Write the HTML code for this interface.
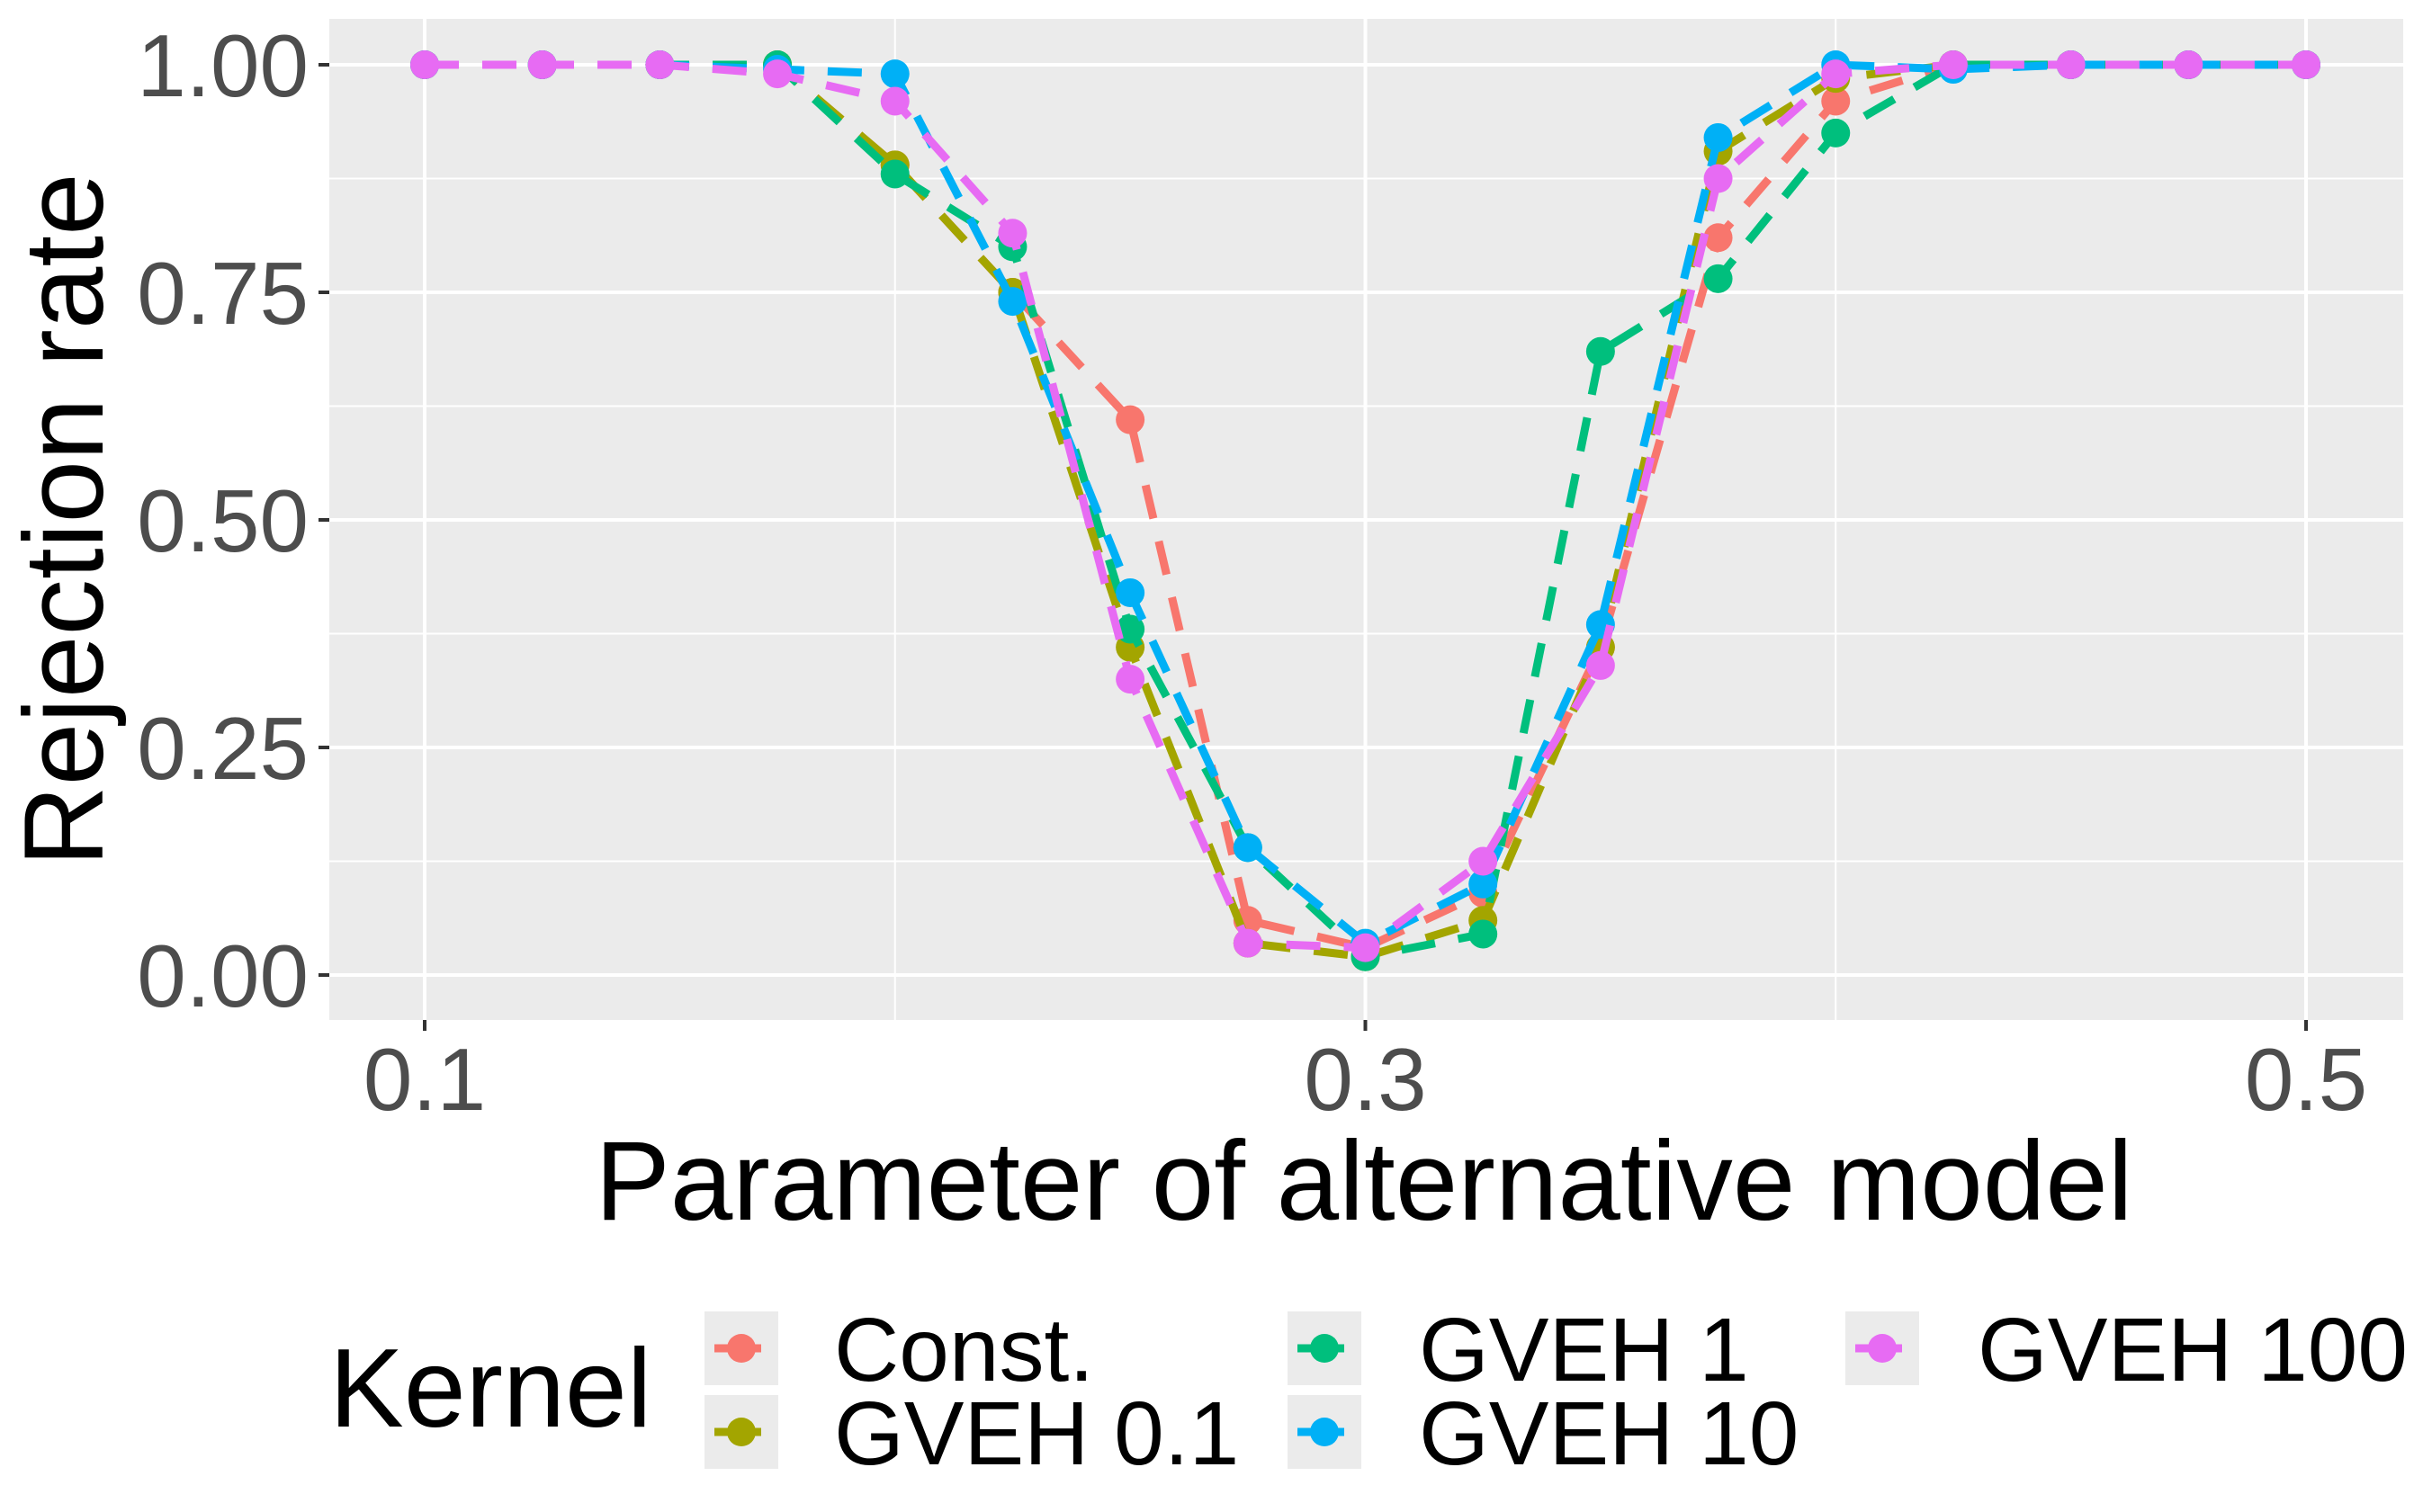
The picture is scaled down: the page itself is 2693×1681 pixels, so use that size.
<!DOCTYPE html>
<html><head><meta charset="utf-8"><style>
html,body{margin:0;padding:0;background:#fff}
svg{display:block}
text{font-family:"Liberation Sans",Arial,sans-serif}
</style></head><body>
<svg id="chart" width="2693" height="1681" viewBox="0 0 2693 1681">
<rect x="0" y="0" width="2693" height="1681" fill="#fff"/>
<rect x="366" y="21" width="2305" height="1113" fill="#ebebeb"/>
<g id="grid"></g>
<g id="series"></g>
<g id="axes"></g>
<text x="1516" y="1356" text-anchor="middle" font-size="125" fill="#000">Parameter of alternative model</text>
<text transform="translate(114,578) rotate(-90)" text-anchor="middle" font-size="125" fill="#000">Rejection rate</text>
<g id="legend">
<text x="366" y="1586" font-size="124" fill="#000">Kernel</text>
</g>
</svg>
<script>
const xs=[0.1,0.125,0.15,0.175,0.2,0.225,0.25,0.275,0.3,0.325,0.35,0.375,0.4,0.425,0.45,0.475,0.5];
const seriesNames=["Const.","GVEH 0.1","GVEH 1","GVEH 10","GVEH 100"];
const colors=["#F8766D","#A3A500","#00BF7D","#00B0F6","#E76BF3"];
const constVals=[1,1,1,1,0.89,0.75,0.61,0.06,0.03,0.09,0.36,0.81,0.96,1,1,1,1];
const gveh01Vals=[1,1,1,1,0.89,0.75,0.36,0.035,0.02,0.06,0.36,0.905,0.985,1,1,1,1];
const gveh1Vals=[1,1,1,1,0.88,0.80,0.38,0.14,0.02,0.045,0.685,0.765,0.925,1,1,1,1];
const gveh10Vals=[1,1,1,0.995,0.99,0.74,0.42,0.14,0.035,0.1,0.385,0.92,1,0.995,1,1,1];
const gveh100Vals=[1,1,1,0.99,0.96,0.815,0.325,0.035,0.03,0.125,0.34,0.875,0.99,1,1,1,1];
const xTicks=[0.1,0.3,0.5];
const xMinor=[0.2,0.4];
const yTicks=[0,0.25,0.5,0.75,1];
const yTickLabels=["0.00","0.25","0.50","0.75","1.00"];
const yMinor=[0.125,0.375,0.625,0.875];

const NS="http://www.w3.org/2000/svg";
const X=v=>472+(v-0.1)/0.4*(2563-472);
const Y=v=>1084-v*(1084-72);
function mk(tag,attrs,parent){const e=document.createElementNS(NS,tag);for(const k in attrs)e.setAttribute(k,attrs[k]);parent.appendChild(e);return e;}
const grid=document.getElementById('grid'),ser=document.getElementById('series'),ax=document.getElementById('axes'),leg=document.getElementById('legend');
yMinor.forEach(v=>{const l=mk('line',{x1:366,x2:2671,y1:Y(v),y2:Y(v),stroke:'#fff','stroke-width':2},grid);

});
xMinor.forEach(v=>{const l=mk('line',{x1:X(v),x2:X(v),y1:21,y2:1134,stroke:'#fff','stroke-width':2},grid);

});
yTicks.forEach((v,i)=>{const l=mk('line',{x1:366,x2:2671,y1:Y(v),y2:Y(v),stroke:'#fff','stroke-width':4},grid);


const t=mk('line',{x1:354,x2:366,y1:Y(v),y2:Y(v),stroke:'#333','stroke-width':4},ax);


const tx=mk('text',{x:343,y:Y(v)+35,'text-anchor':'end','font-size':98,fill:'#4d4d4d'},ax);tx.textContent=yTickLabels[i];

});
xTicks.forEach(v=>{const l=mk('line',{x1:X(v),x2:X(v),y1:21,y2:1134,stroke:'#fff','stroke-width':4},grid);


const t=mk('line',{x1:X(v),x2:X(v),y1:1134,y2:1146,stroke:'#333','stroke-width':4},ax);


const tx=mk('text',{x:X(v),y:1234,'text-anchor':'middle','font-size':98,fill:'#4d4d4d'},ax);tx.textContent=String(v);

});
const allVals=[constVals,gveh01Vals,gveh1Vals,gveh10Vals,gveh100Vals];
allVals.forEach((vals,si)=>{
 const g=mk('g',{},ser);
 
 
 const p=mk('polyline',{points:vals.map((v,i)=>X(xs[i])+','+Y(v)).join(' '),fill:'none',stroke:colors[si],'stroke-width':9,'stroke-dasharray':'38 26'},g);
 
 
 vals.forEach((v,i)=>{const c=mk('circle',{cx:X(xs[i]),cy:Y(v),r:16,fill:colors[si]},g);
 
 });
});
const keyX=[824,824,1472,1472,2092],keyY=[1499,1592,1499,1592,1499],labX=[927,927,1577,1577,2198];
seriesNames.forEach((n,i)=>{
 const g=mk('g',{},leg);
 
 
 mk('rect',{x:keyX[i]-41,y:keyY[i]-41,width:82,height:82,fill:'#ebebeb'},g);
 mk('line',{x1:keyX[i]-30,x2:keyX[i]+30,y1:keyY[i],y2:keyY[i],stroke:colors[i],'stroke-width':9,'stroke-dasharray':'20 12'},g);
 mk('circle',{cx:keyX[i],cy:keyY[i],r:16,fill:colors[i]},g);
 const t=mk('text',{x:labX[i],y:keyY[i]+36,'font-size':100,fill:'#000'},g);t.textContent=n;
 
 
});
</script>
</body></html>
